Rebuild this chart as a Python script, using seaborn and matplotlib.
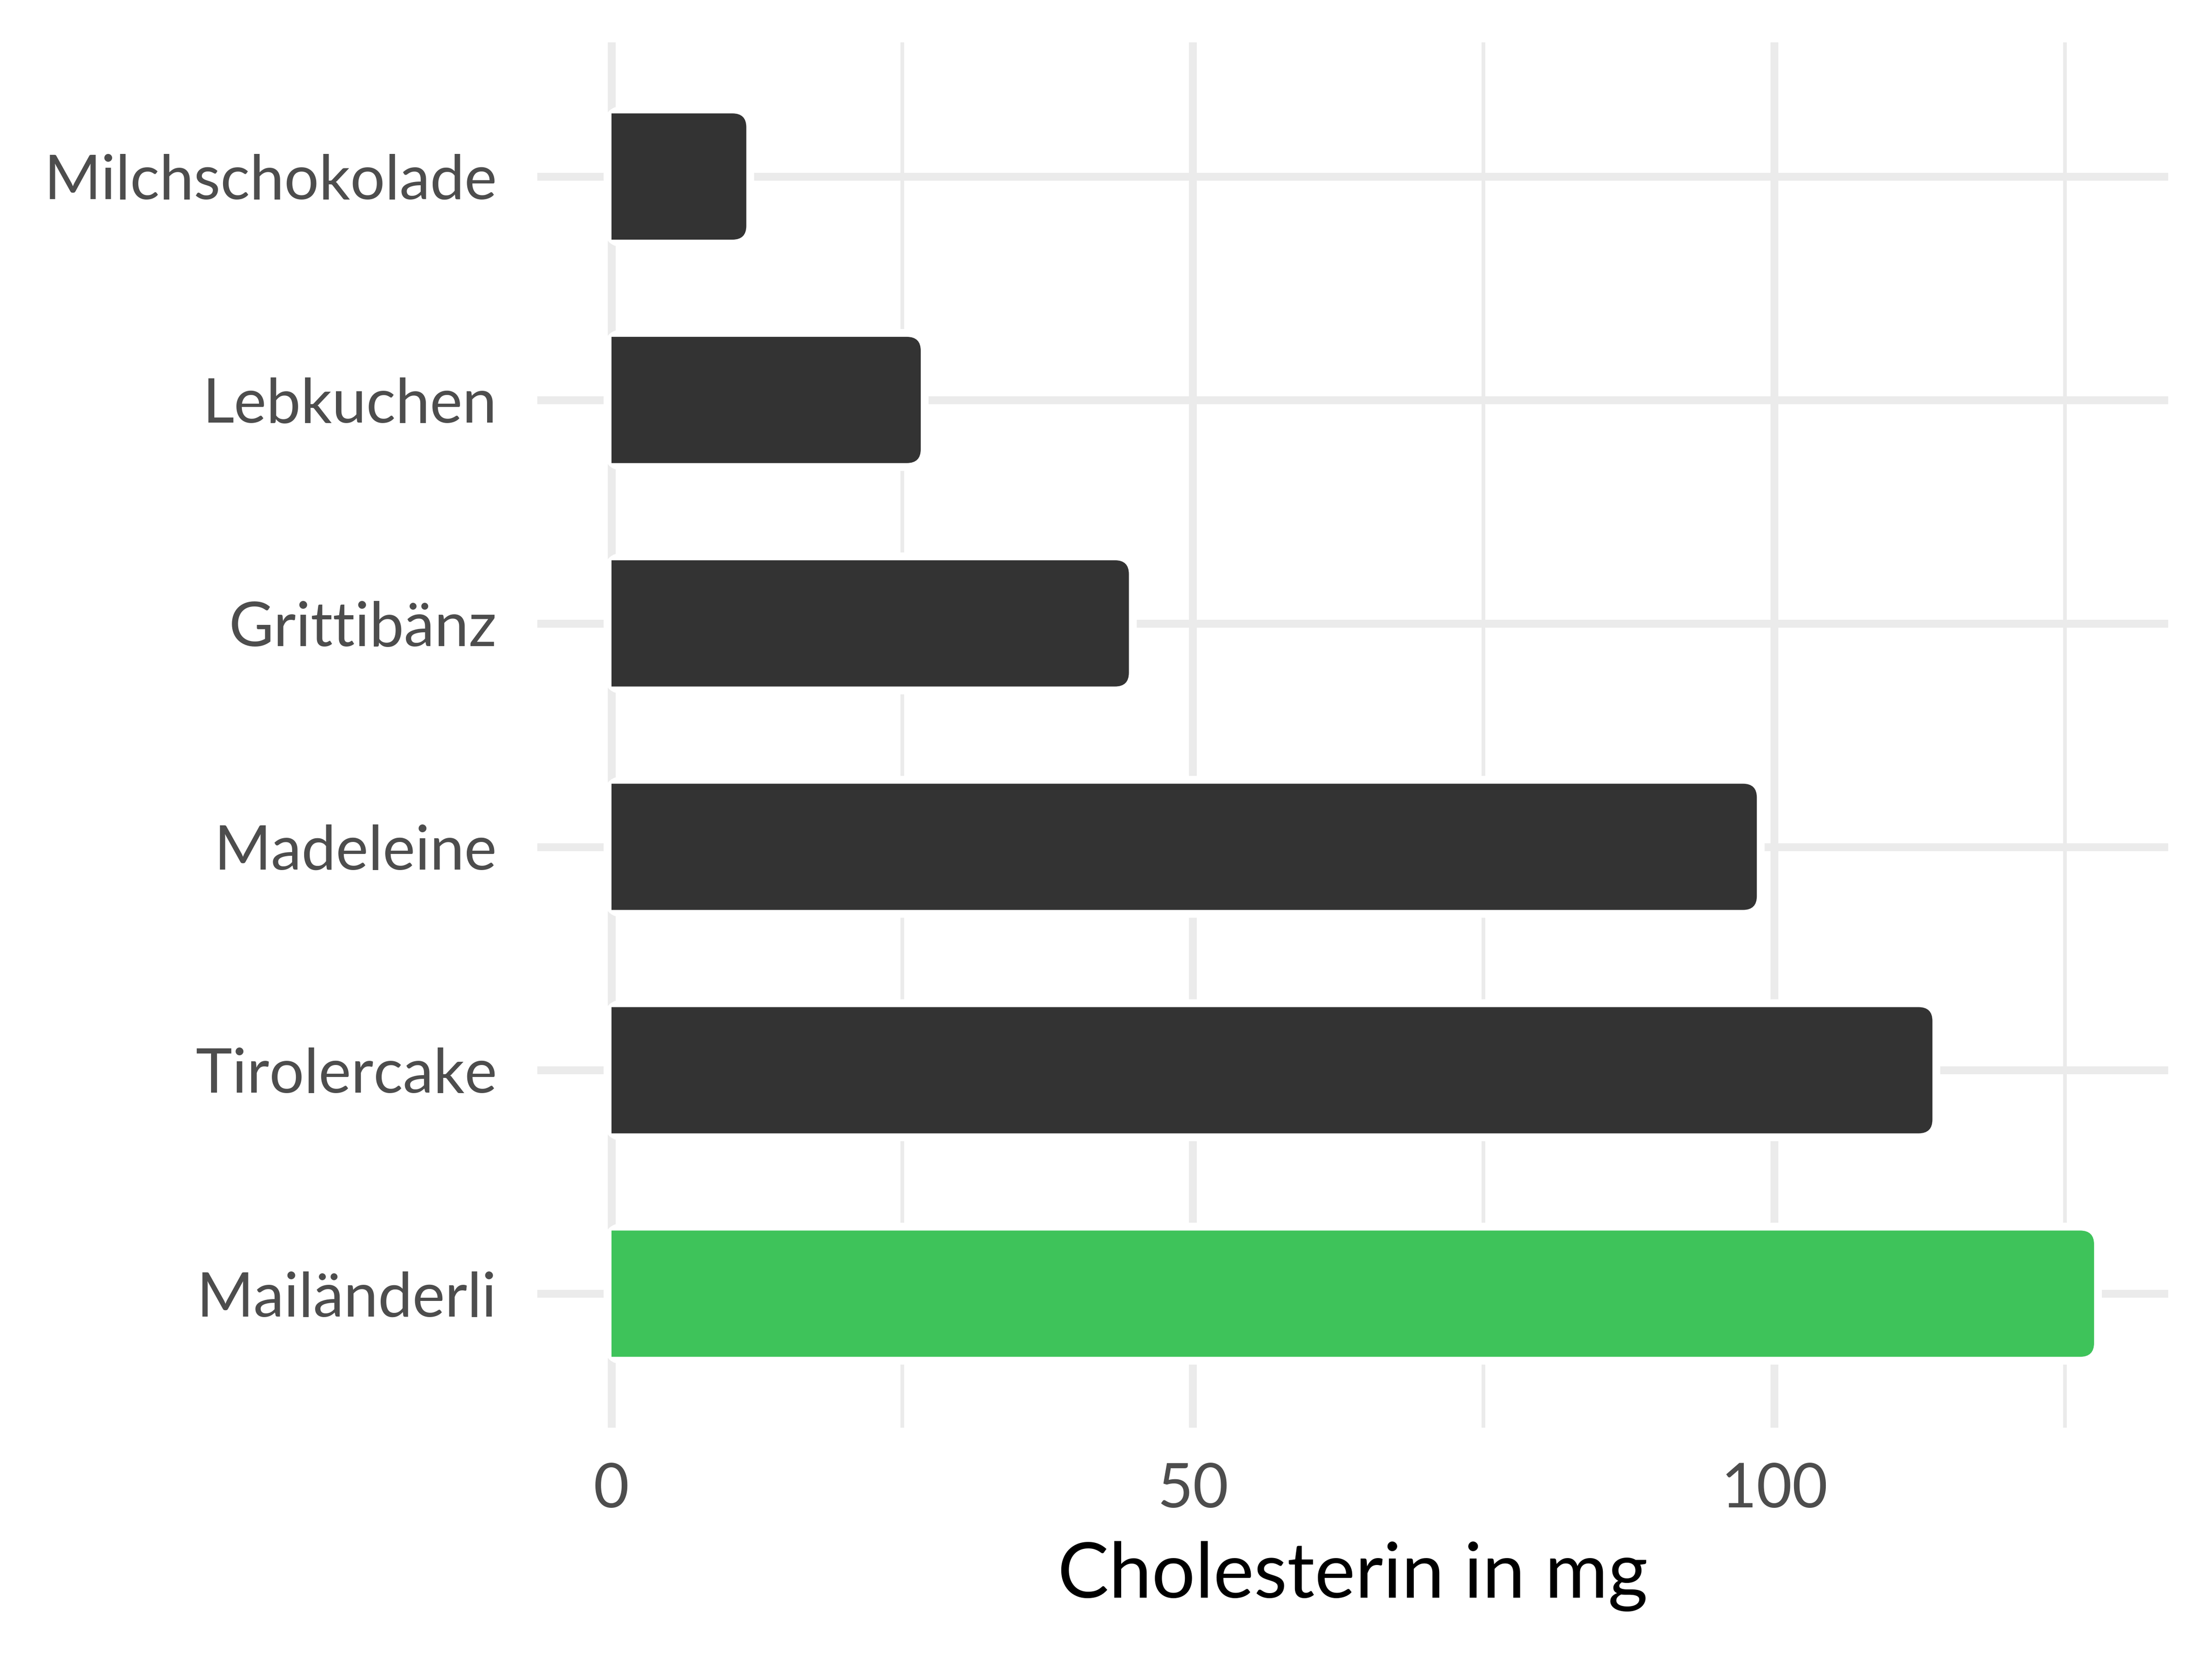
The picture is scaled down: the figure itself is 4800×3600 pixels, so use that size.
import matplotlib
matplotlib.use('Agg')
import matplotlib.pyplot as plt
from matplotlib.patches import FancyBboxPatch, Rectangle
from matplotlib.ticker import FixedLocator
import seaborn as sns

# Data
foods = ['Milchschokolade', 'Lebkuchen', 'Grittibänz', 'Madeleine', 'Tirolercake', 'Mailänderli']
cholesterin = [11.6, 26.6, 44.5, 98.5, 113.6, 127.5]
highlight = 'Mailänderli'
bar_colors = {f: ('#3ec35a' if f == highlight else '#333333') for f in foods}

sns.set_theme(style='white')
plt.rcParams['font.family'] = ['Lato', 'DejaVu Sans']

fig = plt.figure(figsize=(16, 12), dpi=300)
ax = fig.add_axes([0.2429, 0.1394, 0.9802 - 0.2429, 0.9744 - 0.1394])

sns.barplot(x=cholesterin, y=foods, hue=foods, palette=bar_colors, width=0.565,
            saturation=1, orient='h', legend=False, ax=ax, zorder=2)

xmax = max(cholesterin)
ax.set_xlim(-0.05 * xmax, 1.05 * xmax)
ax.set_ylim(len(foods) - 0.4, -0.6)

# pixels per data unit (axes position is fixed)
p0 = ax.transData.transform((0, 0))
p1 = ax.transData.transform((1, 1))
ppx = abs(p1[0] - p0[0])
ppy = abs(p1[1] - p0[1])
aspect = ppx / ppy
r = 30 / ppx
pad = 17 / ppx

# rounded right ends + white halo that cuts the grid lines
clip = Rectangle((0, -10), 1000, 20, transform=ax.transData)
for p in list(ax.patches):
    x0, y0, w, h = p.get_x(), p.get_y(), p.get_width(), p.get_height()
    fc = p.get_facecolor()
    p.remove()
    halo = FancyBboxPatch((x0, y0), w, h, boxstyle=f'round,pad={pad},rounding_size={r + pad}',
                          mutation_aspect=aspect, fc='white', ec='none', zorder=1.5)
    ax.add_patch(halo)
    bar = FancyBboxPatch((x0 - r, y0), w + r, h, boxstyle=f'round,pad=0,rounding_size={r}',
                         mutation_aspect=aspect, fc=fc, ec='none', zorder=2)
    ax.add_patch(bar)
    bar.set_clip_path(clip)

# grid like ggplot theme_minimal
ax.set_xticks([0, 50, 100])
ax.xaxis.set_minor_locator(FixedLocator([25, 75, 125]))
ax.set_axisbelow(True)
ax.grid(which='major', color='#ebebeb', linewidth=4.1)
ax.grid(which='minor', axis='x', color='#ebebeb', linewidth=1.9)
for s in ax.spines.values():
    s.set_visible(False)

ax.tick_params(axis='both', which='both', length=0, labelsize=32, labelcolor='#4d4d4d')
ax.tick_params(axis='y', pad=21)
ax.tick_params(axis='x', pad=18)

ax.set_ylabel('')
ax.set_xlabel('Cholesterin in mg', fontsize=40, color='black', labelpad=12)

fig.savefig('out.png', dpi=300)
